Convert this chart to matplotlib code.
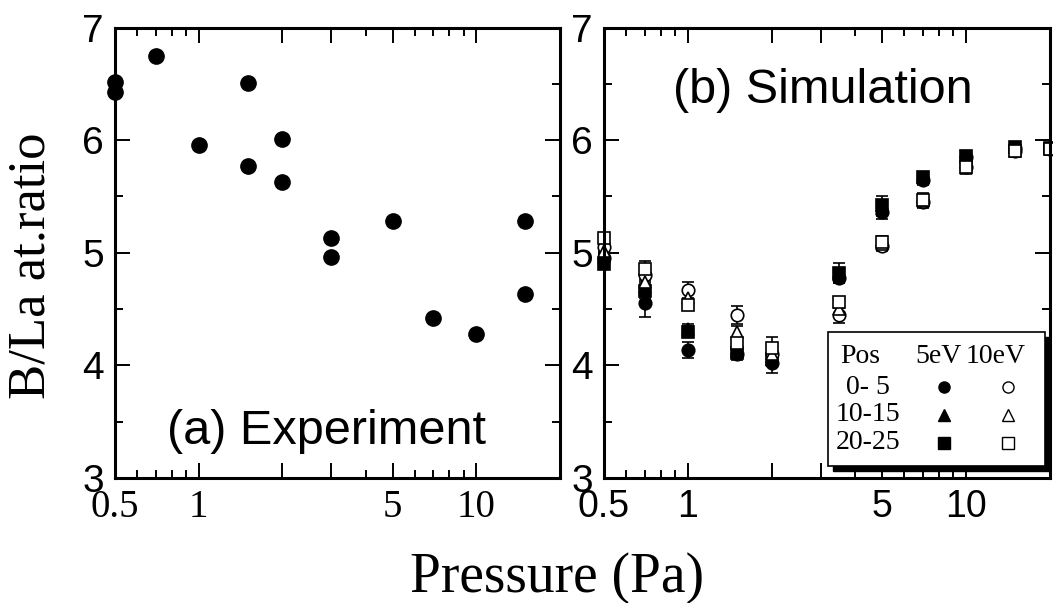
import matplotlib
matplotlib.use("Agg")
import matplotlib.pyplot as plt
from matplotlib.patches import Rectangle
from matplotlib.ticker import FixedLocator, FixedFormatter

SANS = "Liberation Sans"
SERIF = "Liberation Serif"

# (a) experiment
p_exp = [0.5, 0.5, 0.7, 1.0, 1.5, 1.5, 2.0, 2.0, 3.0, 3.0, 5.0, 7.0, 10.0, 15.0, 15.0]
r_exp = [6.52, 6.43, 6.75, 5.96, 6.51, 5.77, 6.01, 5.63, 5.13, 4.96, 5.28, 4.42, 4.28, 5.28, 4.63]

# (b) simulation
p_sim = [0.5, 0.7, 1.0, 1.5, 2.0, 3.5, 5.0, 7.0, 10.0, 15.0, 20.0]
c5 = [4.95, 4.55, 4.14, 4.10, 4.02, 4.78, 5.36, 5.65, 5.85, 5.93, 5.93]
t5 = [4.96, 4.70, 4.32, 4.12, 4.05, 4.80, 5.39, 5.66, 5.84, 5.93, 5.94]
s5 = [4.90, 4.66, 4.30, 4.11, 4.06, 4.82, 5.42, 5.67, 5.86, 5.94, 5.93]
c10 = [5.05, 4.80, 4.67, 4.45, 4.10, 4.45, 5.06, 5.45, 5.76, 5.90, 5.92]
t10 = [5.02, 4.74, 4.60, 4.30, 4.10, 4.50, 5.08, 5.46, 5.75, 5.90, 5.92]
s10 = [5.13, 4.86, 4.54, 4.20, 4.15, 4.56, 5.10, 5.47, 5.76, 5.90, 5.92]
e_c5 = [0.04, 0.12, 0.07, 0.05, 0.09, 0.05, 0.06, 0.05, 0.03, 0.03, 0.03]
e_t5 = [0.04, 0.06, 0.05, 0.05, 0.05, 0.05, 0.06, 0.05, 0.03, 0.03, 0.03]
e_s5 = [0.04, 0.06, 0.05, 0.04, 0.05, 0.09, 0.08, 0.05, 0.03, 0.03, 0.03]
e_c10 = [0.04, 0.06, 0.07, 0.08, 0.05, 0.07, 0.04, 0.05, 0.03, 0.03, 0.03]
e_t10 = [0.04, 0.06, 0.05, 0.05, 0.05, 0.05, 0.05, 0.05, 0.03, 0.03, 0.03]
e_s10 = [0.04, 0.07, 0.05, 0.05, 0.10, 0.05, 0.05, 0.06, 0.03, 0.03, 0.03]

leg_rows = ["0- 5", "10-15", "20-25"]
leg_marks = ["o", "^", "s"]

fig = plt.figure(figsize=(10.53, 6.03), dpi=100)
ax1 = fig.add_axes([0.1092, 0.2073, 0.4226, 0.747])
ax2 = fig.add_axes([0.5736, 0.2073, 0.4236, 0.747])

major_x = [0.5, 1, 2, 3, 5, 10, 20]
major_lab = ["0.5", "1", "", "", "5", "10", ""]
minor_x = [0.6, 0.7, 0.8, 0.9, 4, 6, 7, 8, 9]

for ax, xfont in [(ax1, SERIF), (ax2, SANS)]:
    ax.set_xscale("log")
    ax.set_xlim(0.5, 20)
    ax.set_ylim(3, 7)
    ax.xaxis.set_major_locator(FixedLocator(major_x))
    ax.xaxis.set_major_formatter(FixedFormatter(major_lab))
    ax.xaxis.set_minor_locator(FixedLocator(minor_x))
    ax.xaxis.set_minor_formatter(FixedFormatter([""] * len(minor_x)))
    ax.set_yticks([3, 4, 5, 6, 7])
    ax.set_yticks([3.5, 4.5, 5.5, 6.5], minor=True)
    ax.tick_params(which="both", direction="in", top=True, right=True, width=1.4, pad=8)
    ax.tick_params(which="major", length=11)
    ax.tick_params(which="minor", length=6)
    for lab in ax.get_yticklabels():
        lab.set_fontfamily(SANS)
        lab.set_fontsize(28)
    for lab in ax.get_xticklabels():
        lab.set_fontfamily(xfont)
        lab.set_fontsize(28 if xfont == SERIF else 27)
    for s in ax.spines.values():
        s.set_linewidth(2.2)

ax1.plot(p_exp, r_exp, "o", color="black", ms=11, clip_on=False)
ax1.text(0.476, 0.104, "(a) Experiment", transform=ax1.transAxes, ha="center", va="center",
         fontsize=35, family=SANS)

series = [
    (c5, e_c5, "o", "black"), (t5, e_t5, "^", "black"), (s5, e_s5, "s", "black"),
    (c10, e_c10, "o", "white"), (t10, e_t10, "^", "white"), (s10, e_s10, "s", "white"),
]
for vals, errs, m, fc in series:
    ax2.errorbar(p_sim, vals, yerr=errs, fmt=m, mfc=fc, mec="black", mew=1.2, ms=9,
                 ecolor="black", elinewidth=1.2, capsize=4.5, capthick=1.2, clip_on=False)
ax2.text(0.491, 0.861, "(b) Simulation", transform=ax2.transAxes, ha="center", va="center",
         fontsize=35, family=SANS)

# legend table with drop shadow
ax2.add_patch(Rectangle((0.513, 0.016), 0.487, 0.297, transform=ax2.transAxes,
                        facecolor="black", edgecolor="black", zorder=5, clip_on=False))
ax2.add_patch(Rectangle((0.502, 0.027), 0.487, 0.297, transform=ax2.transAxes,
                        facecolor="white", edgecolor="black", lw=1.2, zorder=6, clip_on=False))
ax2.text(0.530, 0.269, "Pos", transform=ax2.transAxes, va="center", fontsize=20, family=SERIF, zorder=7)
ax2.text(0.697, 0.269, "5eV", transform=ax2.transAxes, va="center", fontsize=20, family=SERIF, zorder=7)
ax2.text(0.810, 0.269, "10eV", transform=ax2.transAxes, va="center", fontsize=20, family=SERIF, zorder=7)
row_y = [0.202, 0.140, 0.078]
for name, m, y in zip(leg_rows, leg_marks, row_y):
    ax2.text(0.592, y, name, transform=ax2.transAxes, ha="center", va="center",
             fontsize=20, family=SERIF, zorder=7)
    ax2.plot([0.762], [y], m, transform=ax2.transAxes, mfc="black", mec="black", ms=8,
             clip_on=False, zorder=7)
    ax2.plot([0.906], [y], m, transform=ax2.transAxes, mfc="white", mec="black", mew=1, ms=8,
             clip_on=False, zorder=7)

fig.text(0.529, 0.018, "Pressure (Pa)", ha="center", va="baseline", fontsize=40, family=SERIF)
fig.text(0.030, 0.56, "B/La at.ratio", ha="center", va="center", rotation=90, fontsize=38, family=SERIF)

fig.savefig("out.png", dpi=100)
